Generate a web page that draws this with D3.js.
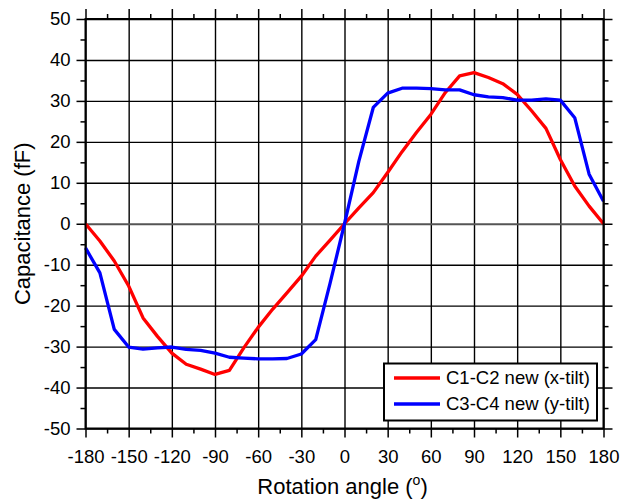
<!DOCTYPE html>
<html>
<head>
<meta charset="utf-8">
<script src="https://cdn.jsdelivr.net/npm/d3@7"></script>
<style>
  body { margin: 0; background: #fff; }
  svg { display: block; font-family: "Liberation Sans", Arial, sans-serif; }
</style>
</head>
<body>
<svg id="chart" width="631" height="502"></svg>
<script>
// rotation angle in degrees, every 10
const angles = d3.range(-180, 181, 10);

// C1-C2 new (x-tilt)
const xTilt = [0, -4.2, -9.1, -15.2, -23, -27.5, -31.6, -34.3, -35.5, -36.8,
  -35.8, -30.3, -25.3, -20.9, -16.9, -12.8, -7.9, -4, 0,
  3.9, 7.6, 12.5, 17.6, 22.3, 26.7, 32, 36.1, 36.9,
  35.7, 34.2, 31.6, 27.6, 23.3, 15.7, 9.2, 4.3, 0];

// C3-C4 new (y-tilt)
const yTilt = [-5.9, -12, -25.8, -30.1, -30.6, -30.3, -30.1, -30.7, -30.9, -31.6,
  -32.6, -32.8, -33, -33, -32.9, -31.8, -28.3, -14.5, 0,
  15.3, 28.4, 31.9, 33.1, 33.1, 33, 32.7, 32.7, 31.5,
  31, 30.8, 30.2, 30.2, 30.5, 30.2, 25.9, 12.1, 5.5];

const xTicks = d3.range(-180, 181, 30);
const xMinor = d3.range(-165, 180, 30);
const yTicks = d3.range(-50, 51, 10);
const yMinor = d3.range(-45, 50, 10);

const seriesNames = ["C1-C2 new (x-tilt)", "C3-C4 new (y-tilt)"];
const seriesColors = ["#ff0000", "#0000ff"];

const plotL = 85.5, plotR = 603.5, plotT = 19, plotB = 428.5;
const svg = d3.select("#chart");

const x = d3.scaleLinear().domain([-180, 180]).range([plotL, plotR]);
const y = d3.scaleLinear().domain([-50, 50]).range([plotB, plotT]);

const plain = d => String(d); // hyphen minus, like the original

// grid
svg.append("g")
  .attr("transform", "translate(0," + plotB + ")")
  .call(d3.axisBottom(x).tickValues(xTicks).tickSize(-(plotB - plotT)).tickFormat(""))
  .call(g => g.select(".domain").remove())
  .call(g => g.selectAll("line").attr("stroke", "#000").attr("stroke-width", 1.4));

svg.append("g")
  .attr("transform", "translate(" + plotL + ",0)")
  .call(d3.axisLeft(y).tickValues(yTicks).tickSize(-(plotR - plotL)).tickFormat(""))
  .call(g => g.select(".domain").remove())
  .call(g => g.selectAll("line")
    .attr("stroke", d => d === 0 ? "#555" : "#000")
    .attr("stroke-width", d => d === 0 ? 2 : 1.4));

// data lines
const line = d3.line()
  .x((d, i) => x(angles[i]))
  .y(d => y(d));

[xTilt, yTilt].forEach((s, k) => {
  svg.append("path")
    .datum(s)
    .attr("fill", "none")
    .attr("stroke", seriesColors[k])
    .attr("stroke-width", 3.3)
    .attr("stroke-linejoin", "round")
    .attr("d", line);
});

// axes with outward ticks on all sides
function styleAxis(g) {
  g.select(".domain").remove();
  g.selectAll("line").attr("stroke", "#000").attr("stroke-width", 1.5);
  g.selectAll("text").attr("fill", "#000").style("font-size", "18.5px");
}

svg.append("g")
  .attr("transform", "translate(0," + plotB + ")")
  .call(d3.axisBottom(x).tickValues(xTicks).tickSize(9).tickPadding(12).tickFormat(plain))
  .call(styleAxis);
svg.append("g")
  .attr("transform", "translate(0," + plotB + ")")
  .call(d3.axisBottom(x).tickValues(xMinor).tickSize(5).tickFormat(""))
  .call(styleAxis);

svg.append("g")
  .attr("transform", "translate(0," + plotT + ")")
  .call(d3.axisTop(x).tickValues(xTicks).tickSize(10).tickFormat(""))
  .call(styleAxis);
svg.append("g")
  .attr("transform", "translate(0," + plotT + ")")
  .call(d3.axisTop(x).tickValues(xMinor).tickSize(5).tickFormat(""))
  .call(styleAxis);

svg.append("g")
  .attr("transform", "translate(" + plotL + ",0)")
  .call(d3.axisLeft(y).tickValues(yTicks).tickSize(9).tickPadding(6).tickFormat(plain))
  .call(styleAxis);
svg.append("g")
  .attr("transform", "translate(" + plotL + ",0)")
  .call(d3.axisLeft(y).tickValues(yMinor).tickSize(5).tickFormat(""))
  .call(styleAxis);

svg.append("g")
  .attr("transform", "translate(" + plotR + ",0)")
  .call(d3.axisRight(y).tickValues(yTicks).tickSize(9).tickFormat(""))
  .call(styleAxis);
svg.append("g")
  .attr("transform", "translate(" + plotR + ",0)")
  .call(d3.axisRight(y).tickValues(yMinor).tickSize(5).tickFormat(""))
  .call(styleAxis);

// frame
svg.append("rect")
  .attr("x", plotL).attr("y", plotT)
  .attr("width", plotR - plotL).attr("height", plotB - plotT)
  .attr("fill", "none").attr("stroke", "#000").attr("stroke-width", 2);

// axis titles
const xt = svg.append("text")
  .attr("x", (plotL + plotR) / 2 - 2)
  .attr("y", 494)
  .attr("text-anchor", "middle")
  .style("font-size", "22px")
  .attr("fill", "#000");
xt.append("tspan").text("Rotation angle (");
xt.append("tspan").attr("dy", -9).style("font-size", "14px").text("o");
xt.append("tspan").attr("dy", 9).text(")");

svg.append("text")
  .attr("transform", "translate(30," + ((plotT + plotB) / 2) + ") rotate(-90)")
  .attr("text-anchor", "middle")
  .style("font-size", "22px")
  .attr("fill", "#000")
  .text("Capacitance (fF)");

// legend
const legend = svg.append("g");
legend.append("rect")
  .attr("x", 384).attr("y", 363.5)
  .attr("width", 213).attr("height", 57)
  .attr("fill", "#fff").attr("stroke", "#000").attr("stroke-width", 2);

seriesNames.forEach((name, k) => {
  const ly = 378 + k * 26;
  legend.append("line")
    .attr("x1", 394).attr("x2", 440)
    .attr("y1", ly).attr("y2", ly)
    .attr("stroke", seriesColors[k]).attr("stroke-width", 3.3);
  legend.append("text")
    .attr("x", 446).attr("y", ly)
    .attr("dy", "0.35em")
    .style("font-size", "18.5px")
    .attr("fill", "#000")
    .text(name);
});
</script>
</body>
</html>
